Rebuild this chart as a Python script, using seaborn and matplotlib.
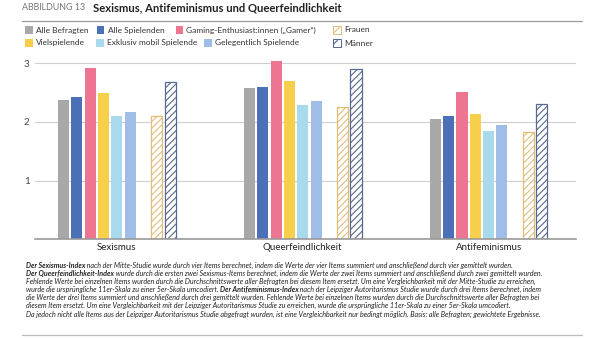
import matplotlib
matplotlib.use("Agg")
import matplotlib.pyplot as plt
from matplotlib.patches import Rectangle
from matplotlib.lines import Line2D
from matplotlib.colors import to_rgb
import seaborn as sns
import pandas as pd
import numpy as np

categories = ["Sexismus", "Queerfeindlichkeit", "Antifeminismus"]
groups = ["Alle Befragten", "Alle Spielenden", "Gaming-Enthusiast:innen („Gamer“)",
          "Vielspielende", "Exklusiv mobil Spielende", "Gelegentlich Spielende",
          "Frauen", "Männer"]
alle_befragten = [2.37, 2.58, 2.05]
alle_spielenden = [2.42, 2.59, 2.10]
gamer = [2.92, 3.03, 2.51]
vielspielende = [2.49, 2.69, 2.13]
exklusiv_mobil = [2.10, 2.29, 1.84]
gelegentlich = [2.16, 2.35, 1.94]
frauen = [2.10, 2.26, 1.82]
maenner = [2.67, 2.90, 2.30]
yticks = [1, 2, 3]

series = [alle_befragten, alle_spielenden, gamer, vielspielende,
          exklusiv_mobil, gelegentlich, frauen, maenner]
colors = ["#a8a8a8", "#4b70b8", "#ed7592", "#f8cf4b", "#a8d9ec", "#9fbde6",
          "#e3bd78", "#56688f"]
hatched = {"Frauen", "Männer"}

GAP = " "
rows = []
for g, vals in zip(groups, series):
    for c, v in zip(categories, vals):
        rows.append({"Index": c, "Gruppe": g, "Wert": v})
df = pd.DataFrame(rows)
hue_order = groups[:6] + [GAP] + groups[6:]
palette = dict(zip(groups, colors))
palette[GAP] = "#ffffff"

sns.set_style("white")
plt.rcParams["font.family"] = ["Lato", "DejaVu Sans"]
plt.rcParams["hatch.linewidth"] = 0.8

fig = plt.figure(figsize=(6, 3.38), dpi=100)
ax = fig.add_axes([35/600, 0.292, 541/600, 0.5476])

sns.barplot(data=df, x="Index", y="Wert", hue="Gruppe", hue_order=hue_order,
            order=categories, palette=palette, width=0.645, gap=0.17,
            legend=False, ax=ax, errorbar=None, saturation=1)

hatch_rgb = {to_rgb(palette[g]): palette[g] for g in hatched}
for p in ax.patches:
    fc = tuple(round(v, 4) for v in p.get_facecolor()[:3])
    p.set_linewidth(0)
    for rgb, col in hatch_rgb.items():
        if np.allclose(fc, rgb, atol=0.01):
            p.set_facecolor("white")
            p.set_edgecolor(col)
            p.set_hatch("/////")
            p.set_linewidth(0.9)

ax.set_xlim(-0.44, 2.47)
ax.set_ylim(0, 3.15)
ax.set_yticks(yticks)
ax.set_yticklabels([str(t) for t in yticks], fontsize=7, color="#444444")
ax.tick_params(axis="y", length=0, pad=4)
ax.tick_params(axis="x", length=0, pad=3, labelsize=7, labelcolor="#222222")
ax.set_xlabel("")
ax.set_ylabel("")
for t in yticks:
    ax.axhline(t, color="#cfcfcf", lw=0.8, zorder=0)
for s in ["top", "right", "left"]:
    ax.spines[s].set_visible(False)
ax.spines["bottom"].set_color("#999999")
ax.spines["bottom"].set_linewidth(1.2)

# Title
fig.text(22/600, 1 - 8/338, "ABBILDUNG 13", fontsize=6.4, color="#777777",
         va="center", ha="left")
fig.text(93/600, 1 - 8/338, "Sexismus, Antifeminismus und Queerfeindlichkeit",
         fontsize=8.1, fontweight="bold", color="#222222", va="center", ha="left")
fig.add_artist(Line2D([22/600, 582/600], [1 - 21/338, 1 - 21/338],
                      color="#9a9a9a", lw=0.9, transform=fig.transFigure))
fig.add_artist(Line2D([22/600, 582/600], [1 - 335/338, 1 - 335/338],
                      color="#bbbbbb", lw=0.9, transform=fig.transFigure))

# Legend (manual)
leg_pos = {0: (25, 30), 1: (96.5, 30), 2: (175.5, 30), 6: (333, 30),
           3: (25, 43), 4: (96, 43), 5: (204, 43), 7: (333, 43)}
for gi, (xp, yp) in leg_pos.items():
    g = groups[gi]
    x0 = xp / 600
    yc = 1 - yp / 338
    w = 7.5 / 600
    h = 7.5 / 338
    if g in hatched:
        r = Rectangle((x0, yc - h/2), w, h, transform=fig.transFigure,
                      facecolor="white", edgecolor=colors[gi],
                      hatch="///", lw=0.7)
    else:
        r = Rectangle((x0, yc - h/2), w, h, transform=fig.transFigure,
                      facecolor=colors[gi], edgecolor="none")
    fig.add_artist(r)
    fig.text(x0 + 11/600, yc, g, fontsize=6.0, color="#333333",
             va="center", ha="left")

# Footnote with mixed bold/italic segments
lines = [
    [("Der Sexismus-Index", True), (" nach der Mitte-Studie wurde durch vier Items berechnet, indem die Werte der vier Items summiert und anschließend durch vier gemittelt wurden.", False)],
    [("Der Queerfeindlichkeit-Index", True), (" wurde durch die ersten zwei Sexismus-Items berechnet, indem die Werte der zwei Items summiert und anschließend durch zwei gemittelt wurden.", False)],
    [("Fehlende Werte bei einzelnen Items wurden durch die Durchschnittswerte aller Befragten bei diesem Item ersetzt. Um eine Vergleichbarkeit mit der Mitte-Studie zu erreichen,", False)],
    [("wurde die ursprüngliche 11er-Skala zu einer 5er-Skala umcodiert. ", False), ("Der Antifeminismus-Index", True), (" nach der Leipziger Autoritarismus Studie wurde durch drei Items berechnet, indem", False)],
    [("die Werte der drei Items summiert und anschließend durch drei gemittelt wurden. Fehlende Werte bei einzelnen Items wurden durch die Durchschnittswerte aller Befragten bei", False)],
    [("diesem Item ersetzt. Um eine Vergleichbarkeit mit der Leipziger Autoritarismus Studie zu erreichen, wurde die ursprüngliche 11er-Skala zu einer 5er-Skala umcodiert.", False)],
    [("Da jedoch nicht alle Items aus der Leipziger Autoritarismus Studie abgefragt wurden, ist eine Vergleichbarkeit nur bedingt möglich. Basis: alle Befragten; gewichtete Ergebnisse.", False)],
]
fig.canvas.draw()
renderer = fig.canvas.get_renderer()
y0 = 265.7
dy = 8.05
for i, segs in enumerate(lines):
    xpx = 25.5
    ypx = y0 + i * dy
    for txt, bold in segs:
        t = fig.text(xpx / 600, 1 - ypx / 338, txt, fontsize=5.1, style="italic",
                     fontweight="bold" if bold else "normal", color="#222222",
                     va="center", ha="left")
        bb = t.get_window_extent(renderer=renderer)
        xpx += bb.width

fig.savefig("out.png", dpi=100)
